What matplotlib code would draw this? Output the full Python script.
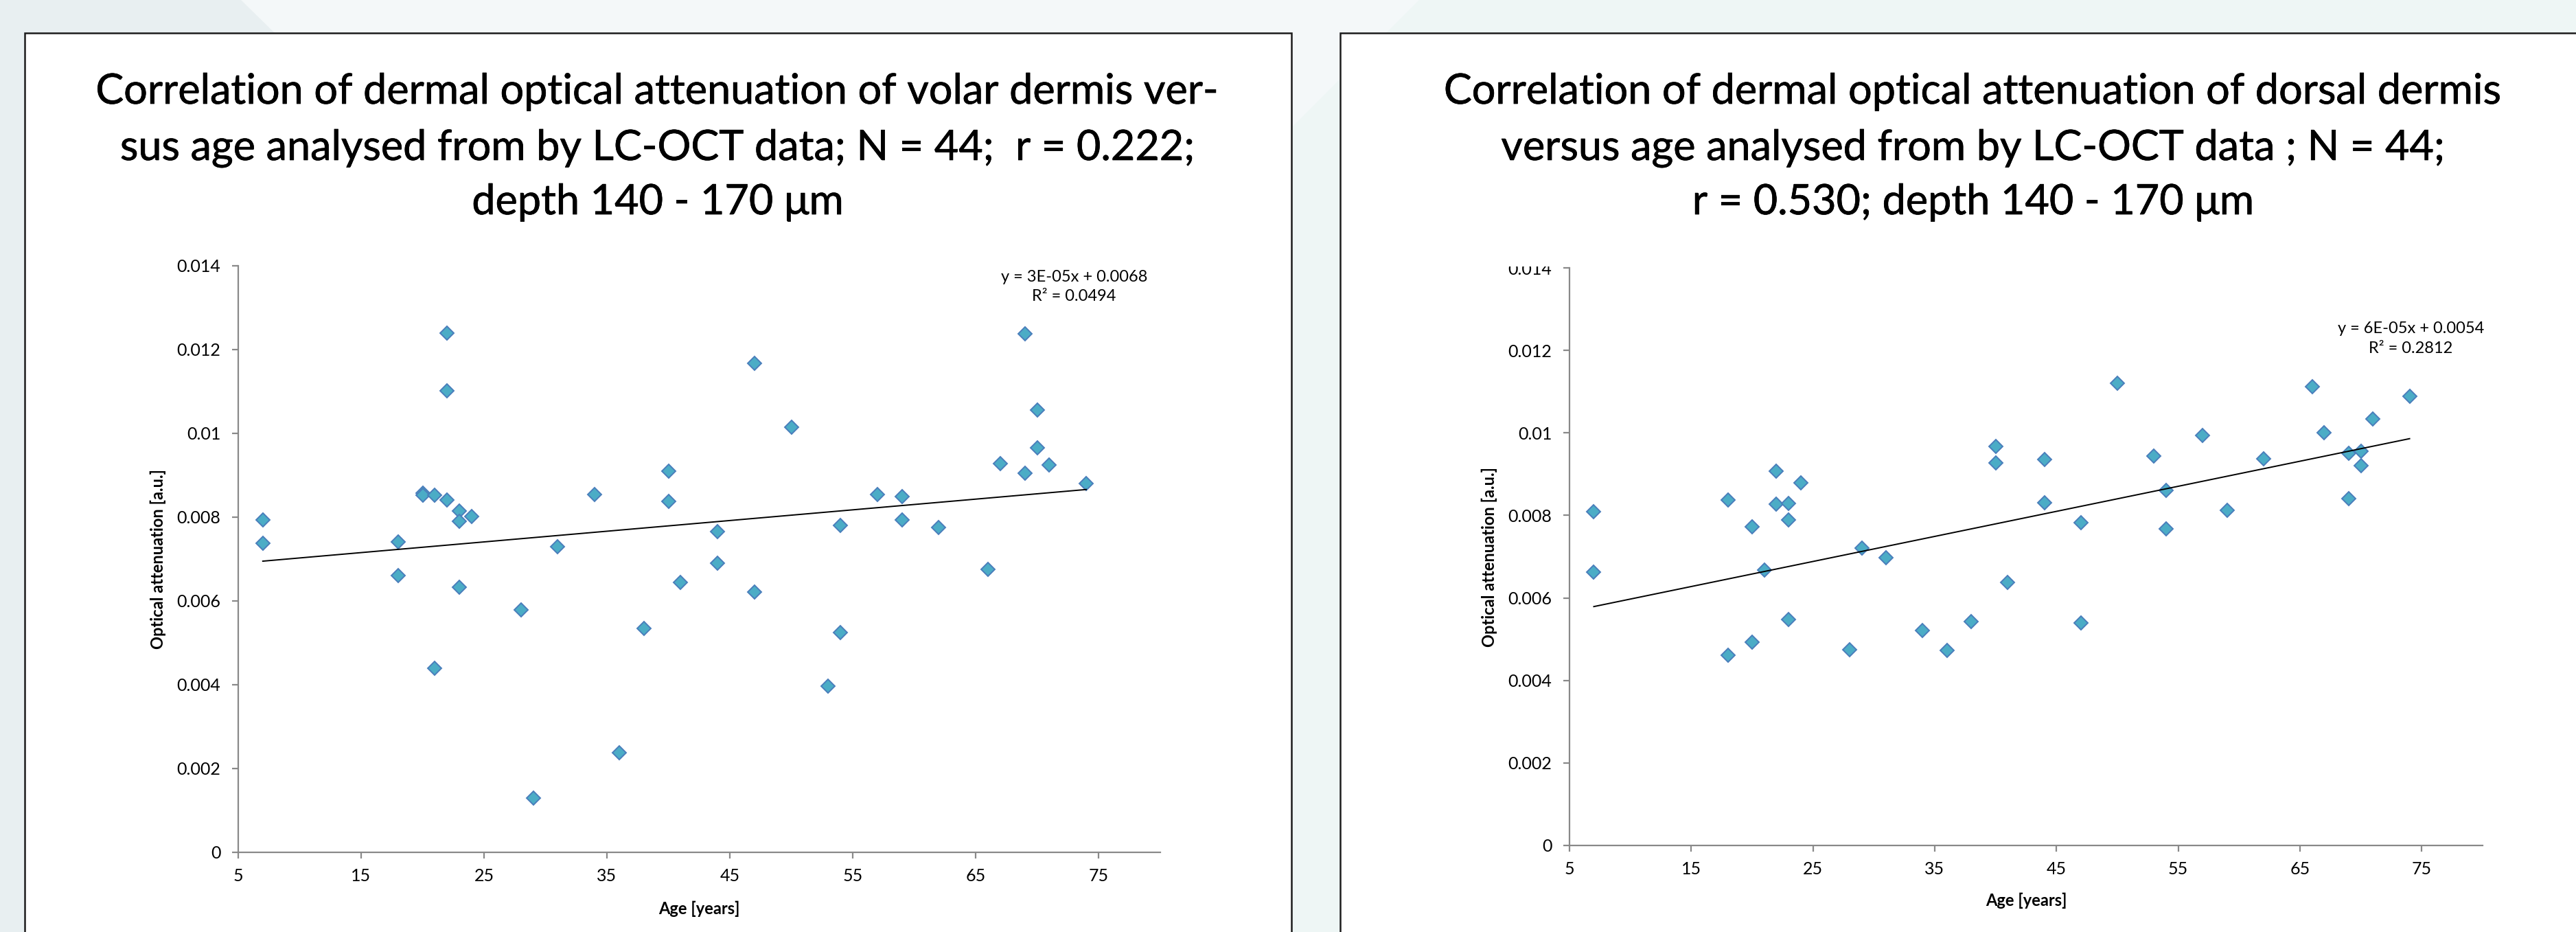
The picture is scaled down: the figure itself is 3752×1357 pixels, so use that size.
import numpy as np
import matplotlib.pyplot as plt
import matplotlib.patheffects as pe
from matplotlib.patches import Rectangle, Polygon
from matplotlib.ticker import MultipleLocator, FuncFormatter
from matplotlib.transforms import Bbox, TransformedBbox

plt.rcParams['font.family'] = ['Lato', 'DejaVu Sans']

W, H = 3752, 1357

# volar dermis (left chart)
age_volar = [7, 7, 18, 18, 20, 20, 21, 21, 22, 22, 22, 23, 23, 23, 24, 28, 29, 31,
             34, 36, 38, 40, 40, 41, 44, 44, 47, 47, 50, 53, 54, 54, 57, 59, 59,
             62, 66, 67, 69, 69, 70, 70, 71, 74]
att_volar = [0.00794, 0.00738, 0.00741, 0.00661, 0.00858, 0.00853, 0.00852, 0.00439,
             0.01240, 0.01101, 0.00841, 0.00815, 0.00790, 0.00633, 0.00802, 0.00579,
             0.00130, 0.00730, 0.00854, 0.00238, 0.00535, 0.00910, 0.00838, 0.00645,
             0.00765, 0.00690, 0.01168, 0.00622, 0.01014, 0.00397, 0.00781, 0.00524,
             0.00854, 0.00850, 0.00794, 0.00776, 0.00675, 0.00928, 0.01237, 0.00905,
             0.01055, 0.00966, 0.00925, 0.00880]
# trend line values at the youngest and oldest age
trend_volar = [0.00695, 0.00866]

# dorsal dermis (right chart)
age_dorsal = [7, 7, 18, 18, 20, 20, 21, 22, 22, 23, 23, 23, 24, 28, 29, 31, 34, 36,
              38, 40, 40, 41, 44, 44, 47, 47, 50, 53, 54, 54, 57, 59, 62, 66, 67,
              69, 69, 70, 70, 71, 74]
att_dorsal = [0.00809, 0.00663, 0.00837, 0.00461, 0.00772, 0.00492, 0.00667, 0.00907,
              0.00827, 0.00829, 0.00789, 0.00547, 0.00879, 0.00475, 0.00721, 0.00697,
              0.00521, 0.00473, 0.00542, 0.00968, 0.00927, 0.00637, 0.00936, 0.00831,
              0.00782, 0.00539, 0.01120, 0.00944, 0.00861, 0.00767, 0.00993, 0.00813,
              0.00938, 0.01112, 0.01000, 0.00951, 0.00840, 0.00956, 0.00920, 0.01034,
              0.01089]
trend_dorsal = [0.00579, 0.00986]

title_volar = ["Correlation of dermal optical attenuation of volar dermis ver-",
               "sus age analysed from by LC-OCT data; N = 44;  r = 0.222;",
               "depth 140 - 170 μm"]
title_dorsal = ["Correlation of dermal optical attenuation of dorsal dermis",
                "versus age analysed from by LC-OCT data ; N = 44;",
                "r = 0.530; depth 140 - 170 μm"]
eq_volar = "y = 3E-05x + 0.0068\nR² = 0.0494"
eq_dorsal = "y = 6E-05x + 0.0054\nR² = 0.2812"

fig = plt.figure(figsize=(W / 100, H / 100), dpi=100)
fig.patch.set_facecolor('#f4f8f9')


def fx(x):
    return x / W


def fy(y):
    return 1 - y / H


# background shapes
fig.add_artist(Polygon([(fx(0), fy(0)), (fx(351), fy(0)), (fx(1737), fy(H)), (fx(0), fy(H))],
                       closed=True, transform=fig.transFigure, facecolor='#e8eff1',
                       edgecolor='none', zorder=-3))
fig.add_artist(Polygon([(fx(2067), fy(0)), (fx(W), fy(0)), (fx(W), fy(H)), (fx(710), fy(H))],
                       closed=True, transform=fig.transFigure, facecolor='#eef6f5',
                       edgecolor='none', zorder=-3))

# white panels
for x0, x1 in [(36, 1881), (1952, 3800)]:
    fig.add_artist(Rectangle((fx(x0), -0.05), fx(x1 - x0), fy(48) + 0.05,
                             transform=fig.transFigure, facecolor='white',
                             edgecolor='#1c1c1c', lw=1.8, zorder=-1))

grey = '#898989'


def make_chart(rect, ages, vals, trend, eq, eq_pos, ylab_x, xlab_y):
    ax = fig.add_axes(rect)
    ax.set_facecolor('none')
    for s in ['top', 'right']:
        ax.spines[s].set_visible(False)
    for s in ['left', 'bottom']:
        ax.spines[s].set_color(grey)
        ax.spines[s].set_linewidth(1.6)
    ax.set_xlim(5, 80)
    ax.set_xticks(range(5, 76, 10))
    ax.set_ylim(0, 0.014)
    ax.yaxis.set_major_locator(MultipleLocator(0.002))
    ax.yaxis.set_major_formatter(FuncFormatter(lambda v, _: f'{v:g}'))
    ax.tick_params(direction='out', length=6.5, width=1.6, color=grey,
                   labelsize=18, labelcolor='black')
    ax.tick_params(axis='y', pad=12)
    ax.tick_params(axis='x', pad=10)

    ax.plot(ages, vals, ls='none', marker='D', ms=10.4, mfc='#4bacc6',
            mec='#4a7ebb', mew=1.4, zorder=3)

    # linear trend line
    ax.plot([min(ages), max(ages)], trend, color='black', lw=1.4, zorder=4)

    ax.text(eq_pos[0], eq_pos[1], eq, ha='center', va='center', fontsize=17,
            linespacing=1.45)

    ax.set_xlabel('Age [years]', fontsize=17, fontweight='bold', va='center')
    ax.xaxis.set_label_coords(0.5, xlab_y)
    ax.set_ylabel('Optical attenuation [a.u.]', fontsize=17, fontweight='bold',
                  va='center')
    ax.yaxis.set_label_coords(ylab_x, 0.5)
    return ax


ax1 = make_chart([fx(347), fy(1241), fx(1689.5 - 347), (1241 - 387) / H],
                 age_volar, att_volar, trend_volar, eq_volar, (73.0, 0.0135), -0.087, -0.096)
ax2 = make_chart([fx(2286), fy(1231), fx(3616 - 2286), (1231 - 390) / H],
                 age_dorsal, att_dorsal, trend_dorsal, eq_dorsal, (74.1, 0.01229), -0.088, -0.095)

# top of the right chart is cut off in the original
clip = TransformedBbox(Bbox.from_extents(0, 0, 1, fy(388)), fig.transFigure)
for t in ax2.yaxis.get_major_ticks():
    t.label1.set_clip_box(clip)
    t.label1.set_clip_on(True)

# titles, one text per line
heavy = [pe.withStroke(linewidth=0.5, foreground='black')]
for lines, cx in [(title_volar, 958), (title_dorsal, 2874)]:
    for line, base in zip(lines, [151, 233, 312]):
        fig.text(fx(cx), fy(base), line, ha='center', va='baseline', fontsize=44,
                 path_effects=heavy)

fig.savefig('out.png', dpi=100, facecolor=fig.get_facecolor())
